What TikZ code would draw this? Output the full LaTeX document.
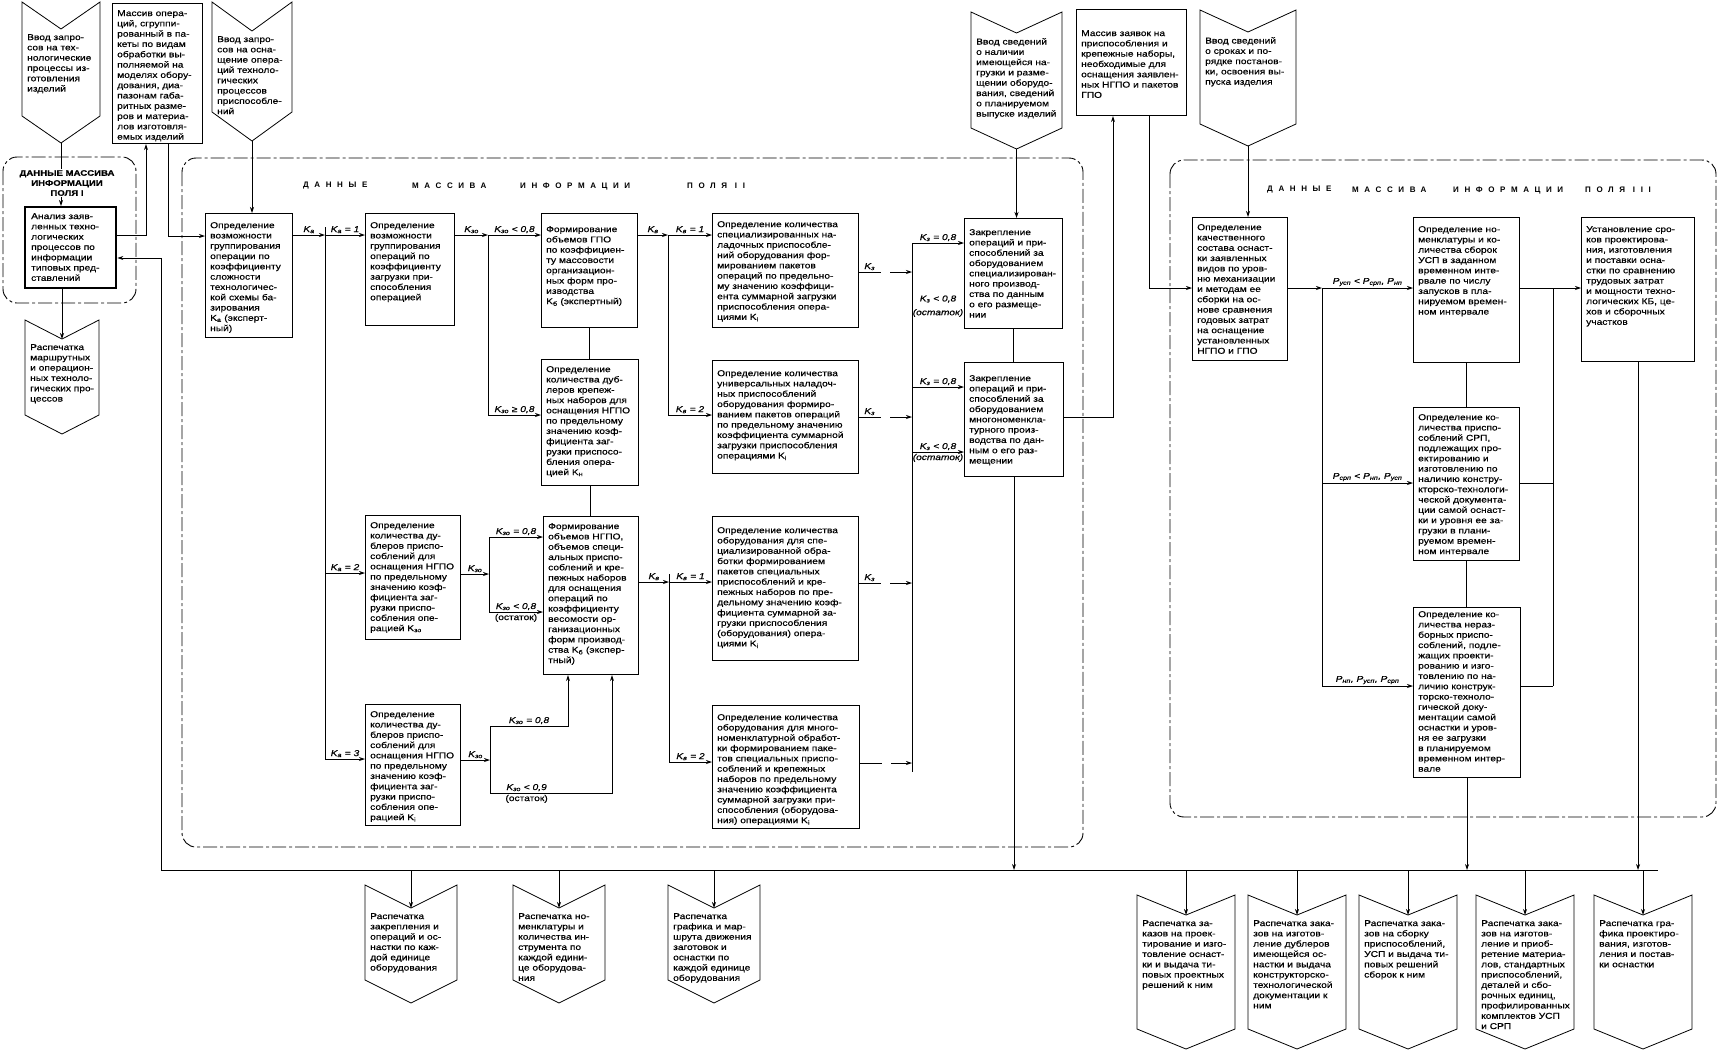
\documentclass[tikz,border=0pt]{standalone}
\usepackage{fontspec}
\setmainfont{Liberation Sans}[FakeStretch=1.2, FakeBold=0.5]
\newfontfamily\ttlfont{Liberation Sans}[LetterSpace=70]
\usetikzlibrary{arrows.meta}
\tikzset{box/.style={draw, line width=1.1pt, anchor=north west, inner sep=0pt},
 thickbox/.style={box, line width=2.4pt},
 txt/.style={anchor=north west, align=left, inner sep=0pt, font=\fontsize{8.5}{10.3}\selectfont},
 lab/.style={inner sep=1.5pt, font=\fontsize{8.5}{9}\selectfont\itshape},
 ln/.style={line width=0.8pt},
 arr/.style={line width=0.8pt, -{Stealth[length=6pt,width=4pt]}},
 gaparr/.style={arr, dash pattern=on 22pt off 9pt on 40pt off 0pt},
 fieldframe/.style={line width=0.9pt, dash pattern=on 14pt off 3pt on 3pt off 3pt, rounded corners=14pt},
 ttl/.style={anchor=west, inner sep=0pt, font=\ttlfont\bfseries\fontsize{8}{9}\selectfont},
 }
\newcommand\Kx[1]{K\textsubscript{#1}}
\newcommand\Px[1]{P\textsubscript{#1}}
% box: [text offset] name, x, y, width, height, text
\newcommand\blok[7][7]{%
 \node[box, minimum width=#5pt, minimum height=#6pt] (#2) at (#3,#4) {};
 \node[txt] (#2-t) at ({#3+5},{#4+#1}) {#7};}
% chevron: name, x, y, width, side height, notch depth, text
\newcommand\chev[7]{%
 \draw[ln] (#2,#3) -- ({#2+#4/2},{#3+#6}) -- ({#2+#4},#3) -- ({#2+#4},{#3+#5})
  -- ({#2+#4/2},{#3+#5+#6}) -- (#2,{#3+#5}) -- cycle;
 \coordinate (#1-n) at ({#2+#4/2},{#3+#6});
 \coordinate (#1-s) at ({#2+#4/2},{#3+#5+#6});
 \node[txt] (#1-t) at ({#2+5},{#3+#6+5}) {#7};}

\begin{document}
\begin{tikzpicture}[x=1pt, y=-1pt]
\useasboundingbox (0,0) rectangle (1721,1053);

\draw[fieldframe] (3,157) rectangle (136,303);
\draw[fieldframe] (182,158) rectangle (1083,847);
\draw[fieldframe] (1170,160) rectangle (1716,817);

\node[ttl] (t2a) at (303,186) {ДАННЫЕ};
\node[ttl] (t2b) at (412,186) {МАССИВА};
\node[ttl] (t2c) at (520,186) {ИНФОРМАЦИИ};
\node[ttl] (t2d) at (687,186) {ПОЛЯ II};
\node[ttl] (t3a) at (1267,190) {ДАННЫЕ};
\node[ttl] (t3b) at (1352,190) {МАССИВА};
\node[ttl] (t3c) at (1453,190) {ИНФОРМАЦИИ};
\node[ttl] (t3d) at (1585,190) {ПОЛЯ III};

\chev{c1}{22}{2}{78}{114}{27}{Ввод запро-\\сов на тех-\\нологические\\процессы из-\\готовления\\изделий}
\chev{c2}{212}{2}{80}{110}{29}{Ввод запро-\\сов на осна-\\щение опера-\\ций техноло-\\гических\\процессов\\приспособле-\\ний}
\chev{c3}{971}{12}{91}{116}{21}{Ввод сведений\\о наличии\\имеющейся на-\\грузки и разме-\\щении оборудо-\\вания, сведений\\о планируемом\\выпуске изделий}
\chev{c4}{1200}{10}{96}{114}{22}{Ввод сведений\\о сроках и по-\\рядке постанов-\\ки, освоения вы-\\пуска изделия}
\chev{c5}{25}{320}{74}{95}{19}{Распечатка\\маршрутных\\и операцион-\\ных техноло-\\гических про-\\цессов}

\node[thickbox, minimum width=91pt, minimum height=81pt] (an) at (24,206) {};
\node[txt] (an-t) at (31,213) {Анализ заяв-\\ленных техно-\\логических\\процессов по\\информации\\типовых пред-\\ставлений};
\blok{ops}{112}{3}{90}{140}{Массив опера-\\ций, сгруппи-\\рованный в па-\\кеты по видам\\обработки вы-\\полняемой на\\моделях обору-\\дования, диа-\\пазонам габа-\\ритных разме-\\ров и материа-\\лов изготовля-\\емых изделий}
\blok[21]{zay}{1076}{9}{110}{106}{Массив заявок на\\приспособления и\\крепежные наборы,\\необходимые для\\оснащения заявлен-\\ных НГПО и пакетов\\ГПО}

\blok[9]{bA}{205}{213}{87}{124}{Определение\\возможности\\группирования\\операции по\\коэффициенту\\сложности\\технологичес-\\кой схемы ба-\\зирования\\\Kx{а} (эксперт-\\ный)}
\blok[9]{bB}{365}{213}{89}{112}{Определение\\возможности\\группирования\\операций по\\коэффициенту\\загрузки при-\\способления\\операцией}
\blok[13]{bC1}{541}{213}{96}{114}{Формирование\\объемов ГПО\\по коэффициен-\\ту массовости\\организацион-\\ных форм про-\\изводства\\\Kx{б} (экспертный)}
\blok{bC2}{541}{359}{97}{126}{Определение\\количества дуб-\\леров крепеж-\\ных наборов для\\оснащения НГПО\\по предельному\\значению коэф-\\фициента заг-\\рузки приспосо-\\бления опера-\\цией \Kx{н}}
\blok[8]{bD1}{712}{213}{146}{114}{Определение количества\\специализированных на-\\ладочных приспособле-\\ний оборудования фор-\\мированием пакетов\\операций по предельно-\\му значению коэффици-\\ента суммарной загрузки\\приспособления опера-\\циями \Kx{i}}
\blok[10]{bD2}{712}{360}{146}{113}{Определение количества\\универсальных наладоч-\\ных приспособлений\\оборудования формиро-\\ванием пакетов операций\\по предельному значению\\коэффициента суммарной\\загрузки приспособления\\операциями \Kx{i}}
\blok{bB2}{365}{515}{95}{124}{Определение\\количества ду-\\блеров приспо-\\соблений для\\оснащения НГПО\\по предельному\\значению коэф-\\фициента заг-\\рузки приспо-\\собления опе-\\рацией \Kx{зо}}
\blok{bB3}{365}{704}{95}{121}{Определение\\количества ду-\\блеров приспо-\\соблений для\\оснащения НГПО\\по предельному\\значению коэф-\\фициента заг-\\рузки приспо-\\собления опе-\\рацией \Kx{i}}
\blok{bC3}{543}{516}{95}{158}{Формирование\\объемов НГПО,\\объемов специ-\\альных приспо-\\соблений и кре-\\пежных наборов\\для оснащения\\операций по\\коэффициенту\\весомости ор-\\ганизационных\\форм производ-\\ства \Kx{б} (экспер-\\тный)}
\blok[11]{bF1}{712}{516}{146}{144}{Определение количества\\оборудования для спе-\\циализированной обра-\\ботки формированием\\пакетов специальных\\приспособлений и кре-\\пежных наборов по пре-\\дельному значению коэф-\\фициента суммарной за-\\грузки приспособления\\(оборудования) опера-\\циями \Kx{i}}
\blok[9]{bF2}{712}{705}{147}{123}{Определение количества\\оборудования для много-\\номенклатурной обработ-\\ки формированием паке-\\тов специальных приспо-\\соблений и крепежных\\наборов по предельному\\значению коэффициента\\суммарной загрузки при-\\способления (оборудова-\\ния) операциями \Kx{i}}
\blok[11]{bE1}{964}{218}{98}{110}{Закрепление\\операций и при-\\способлений за\\оборудованием\\специализирован-\\ного производ-\\ства по данным\\о его размеще-\\нии}
\blok[13]{bE2}{964}{362}{99}{114}{Закрепление\\операций и при-\\способлений за\\оборудованием\\многономенкла-\\турного произ-\\водства по дан-\\ным о его раз-\\мещении}
\blok{bG}{1192}{217}{95}{143}{Определение\\качественного\\состава оснаст-\\ки заявленных\\видов по уров-\\ню механизации\\и методам ее\\сборки на ос-\\нове сравнения\\годовых затрат\\на оснащение\\установленных\\НГПО и ГПО}
\blok[9]{bH1}{1413}{217}{106}{145}{Определение но-\\менклатуры и ко-\\личества сборок\\УСП в заданном\\временном инте-\\рвале по числу\\запусков в пла-\\нируемом времен-\\ном интервале}
\blok{bH2}{1413}{407}{106}{153}{Определение ко-\\личества приспо-\\соблений СРП,\\подлежащих про-\\ектированию и\\изготовлению по\\наличию констру-\\кторско-технологи-\\ческой документа-\\ции самой оснаст-\\ки и уровня ее за-\\грузки в плани-\\руемом времен-\\ном интервале}
\blok[4]{bH3}{1413}{607}{107}{170}{Определение ко-\\личества нераз-\\борных приспо-\\соблений, подле-\\жащих проекти-\\рованию и изго-\\товлению по на-\\личию конструк-\\торско-техноло-\\гической доку-\\ментации самой\\оснастки и уров-\\ня ее загрузки\\в планируемом\\временном интер-\\вале}
\blok[9]{bI}{1581}{217}{113}{144}{Установление сро-\\ков проектирова-\\ния, изготовления\\и поставки осна-\\стки по сравнению\\трудовых затрат\\и мощности техно-\\логических КБ, це-\\хов и сборочных\\участков}

\chev{p1}{365}{885}{92}{95}{23}{Распечатка\\закрепления и\\операций и ос-\\настки по каж-\\дой единице\\оборудования}
\chev{p2}{513}{885}{92}{95}{23}{Распечатка но-\\менклатуры и\\количества ин-\\струмента по\\каждой едини-\\це оборудова-\\ния}
\chev{p3}{668}{885}{92}{95}{23}{Распечатка\\графика и мар-\\шрута движения\\заготовок и\\оснастки по\\каждой единице\\оборудования}
\chev{q1}{1137}{895}{98}{134}{20}{Распечатка за-\\казов на проек-\\тирование и изго-\\товление оснаст-\\ки и выдача ти-\\повых проектных\\решений к ним}
\chev{q2}{1248}{895}{98}{134}{20}{Распечатка зака-\\зов на изготов-\\ление дублеров\\имеющейся ос-\\настки и выдача\\конструкторско-\\технологической\\документации к\\ним}
\chev{q3}{1359}{895}{98}{134}{20}{Распечатка зака-\\зов на сборку\\приспособлений,\\УСП и выдача ти-\\повых решений\\сборок к ним}
\chev{q4}{1476}{895}{98}{134}{20}{Распечатка зака-\\зов на изготов-\\ление и приоб-\\ретение материа-\\лов, стандартных\\приспособлений,\\деталей и сбо-\\рочных единиц,\\профилированных\\комплектов УСП\\и СРП}
\chev{q5}{1594}{895}{98}{134}{20}{Распечатка гра-\\фика проектиро-\\вания, изготов-\\ления и постав-\\ки оснастки}

\coordinate (busL) at (161,870);
\coordinate (busR) at (1658,870);
\coordinate (fbk) at (161,258);
\coordinate (kA) at (146,235);
\coordinate (kB) at (168,236);
\draw[arr] (c1-s) -- (c1-s |- an.north);
\draw[arr] (an.south -| c5-n) -- (c5-n);
\draw[arr] (an.north east |- kA) -- (kA) -- (kA |- ops.south);
\draw[arr] (ops.south -| kB) -- (kB) -- (bA.west |- kB);
\draw[arr] (busL) -- (fbk) -- (an.north east |- fbk);
\draw[arr] (c2-s) -- (c2-s |- bA.north);
\node[fill=white, inner sep=1pt, align=center, font=\bfseries\fontsize{8}{10}\selectfont] (t1) at (67,183) {ДАННЫЕ МАССИВА\\ИНФОРМАЦИИ\\ПОЛЯ I};

\coordinate (jKa1) at (325,235);
\coordinate (jKa2) at (325,573);
\coordinate (jKa3) at (325,759);
\draw[arr] (bA.north east |- jKa1) -- node[lab, above] (lKa) {\Kx{а}} (jKa1);
\draw[ln] ([yshift=8pt]jKa1) -- (jKa3);
\draw[arr] (jKa1) -- node[lab, above] (lKa1) {\Kx{а} = 1} (bB.west |- jKa1);
\draw[arr] (jKa2) -- node[lab, above] (lKa2) {\Kx{а} = 2} (bB2.west |- jKa2);
\draw[arr] (jKa3) -- node[lab, above] (lKa3) {\Kx{а} = 3} (bB3.west |- jKa3);

\coordinate (jZ1) at (488,235);
\coordinate (jZ2) at (488,415);
\draw[arr] (bB.north east |- jZ1) -- node[lab, above] (lZ) {\Kx{зо}} (jZ1);
\draw[ln] (jZ1) -- (jZ2);
\draw[arr] (jZ1) -- node[lab, above] (lZ1) {\Kx{зо} < 0,8} (bC1.west |- jZ1);
\draw[arr] (jZ2) -- node[lab, above] (lZ2) {\Kx{зо} ≥ 0,8} (bC2.west |- jZ2);
\draw[ln] (bC1.south) -- (bC1.south |- bC2.north);

\coordinate (jV1) at (668,235);
\coordinate (jV2) at (668,415);
\draw[arr] (bC1.north east |- jV1) -- node[lab, above] (lV) {\Kx{в}} (jV1);
\draw[ln] (jV1) -- (jV2);
\draw[arr] (jV1) -- node[lab, above] (lV1) {\Kx{в} = 1} (bD1.west |- jV1);
\draw[arr] (jV2) -- node[lab, above] (lV2) {\Kx{в} = 2} (bD2.west |- jV2);

\coordinate (jY1) at (489,537);
\coordinate (jY0) at (489,574);
\coordinate (jY2) at (489,612);
\draw[arr] (bB2.north east |- jY0) -- node[lab, above] (lY) {\Kx{зо}} (jY0);
\draw[ln] (jY1) -- (jY2);
\draw[arr] (jY1) -- node[lab, above] (lY1) {\Kx{зо} = 0,8} (bC3.west |- jY1);
\draw[arr] (jY2) -- node[lab, above] (lY2) {\Kx{зо} < 0,8} node[lab, below] (lY3) {\upshape(остаток)} (bC3.west |- jY2);

\coordinate (jX1) at (490,726);
\coordinate (jX0) at (490,760);
\coordinate (jX2) at (490,793);
\coordinate (kX1) at (568,726);
\coordinate (kX2) at (612,793);
\draw[arr] (bB3.north east |- jX0) -- node[lab, above] (lX) {\Kx{зо}} (jX0);
\draw[ln] (jX1) -- (jX2);
\draw[arr] (jX1) -- node[lab, above] (lX1) {\Kx{зо} = 0,8} (kX1) -- (kX1 |- bC3.south);
\draw[arr] (jX2) -- node[lab, above, pos=0.3] (lX2) {\Kx{зо} < 0,9} node[lab, below, pos=0.3] (lX3) {\upshape(остаток)} (kX2) -- (kX2 |- bC3.south);
\draw[ln] (bC2.south) -- (bC2.south |- bC3.north);

\coordinate (jW1) at (669,582);
\coordinate (jW2) at (669,762);
\draw[arr] (bC3.north east |- jW1) -- node[lab, above] (lW) {\Kx{в}} (jW1);
\draw[ln] ([yshift=8pt]jW1) -- (jW2);
\draw[arr] (jW1) -- node[lab, above] (lW1) {\Kx{в} = 1} (bF1.west |- jW1);
\draw[arr] (jW2) -- node[lab, above] (lW2) {\Kx{в} = 2} (bF2.west |- jW2);

\coordinate (iD1) at (912,272);
\coordinate (iD2) at (912,417);
\coordinate (iF1) at (912,583);
\coordinate (iF2) at (912,763);
\coordinate (jK1) at (912,243);
\coordinate (jK2) at (912,387);
\coordinate (jK3) at (912,452);
\coordinate (jKb) at (912,772);
\draw[gaparr] (bD1.north east |- iD1) -- node[lab, above, pos=0.2] (lD1) {\Kx{з}} (iD1);
\draw[gaparr] (bD2.north east |- iD2) -- node[lab, above, pos=0.2] (lD2) {\Kx{з}} (iD2);
\draw[gaparr] (bF1.north east |- iF1) -- node[lab, above, pos=0.2] (lF1) {\Kx{з}} (iF1);
\draw[gaparr] (bF2.north east |- iF2) -- (iF2);
\draw[ln] (jK1) -- (jKb);
\draw[arr] (jK1) -- node[lab, above] (lK1) {\Kx{з} = 0,8} (bE1.west |- jK1);
\node[lab] (lK1a) at (938,299) {\Kx{з} < 0,8};
\node[lab] (lK1b) at (938,313) {(остаток)};
\draw[arr] (jK2) -- node[lab, above] (lK2) {\Kx{з} = 0,8} (bE2.west |- jK2);
\draw[arr] (jK3) -- node[lab, above] (lK3) {\Kx{з} < 0,8} node[lab, below] (lK3b) {(остаток)} (bE2.west |- jK3);
\draw[ln] (bE1.south) -- (bE1.south |- bE2.north);
\draw[arr] (c3-s) -- (c3-s |- bE1.north);

\coordinate (kE) at (1113,417);
\coordinate (kG) at (1149,288);
\draw[arr] (bE2.north east |- kE) -- (kE) -- (kE |- zay.south);
\draw[arr] (zay.south -| kG) -- (kG) -- (bG.west |- kG);
\draw[arr] (c4-s) -- (c4-s |- bG.north);

\coordinate (jP1) at (1322,288);
\coordinate (jP2) at (1322,483);
\coordinate (jP3) at (1322,686);
\coordinate (jQ1) at (1553,288);
\coordinate (jQ3) at (1553,686);
\draw[arr] (bG.north east |- jP1) -- (jP1);
\draw[ln] (jP1) -- (jP3);
\draw[arr] (jP1) -- node[lab, above] (lP1) {\Px{усп} < \Px{срп}, \Px{нп}} (bH1.west |- jP1);
\draw[arr] (jP2) -- node[lab, above] (lP2) {\Px{срп} < \Px{нп}, \Px{усп}} (bH2.west |- jP2);
\draw[arr] (jP3) -- node[lab, above] (lP3) {\Px{нп}, \Px{усп}, \Px{срп}} (bH3.west |- jP3);
\draw[ln] (bH1.south) -- (bH1.south |- bH2.north);
\draw[ln] (bH2.south) -- (bH2.south |- bH3.north);
\draw[arr] (bH1.north east |- jQ1) -- (bI.west |- jQ1);
\draw[ln] (jQ1) -- (jQ3);
\draw[ln] (bH2.north east |- jP2) -- (jQ1 |- jP2);
\draw[ln] (bH3.north east |- jP3) -- (jQ3);

\draw[ln] (busL) -- (busR);
\draw[arr] (bE2.south) -- (bE2.south |- busL);
\draw[arr] (bH3.south) -- (bH3.south |- busL);
\draw[arr] (bI.south) -- (bI.south |- busL);
\foreach \p in {p1,p2,p3,q1,q2,q3,q4,q5}
  \draw[arr] (\p-n |- busL) -- (\p-n);
\end{tikzpicture}
\end{document}
